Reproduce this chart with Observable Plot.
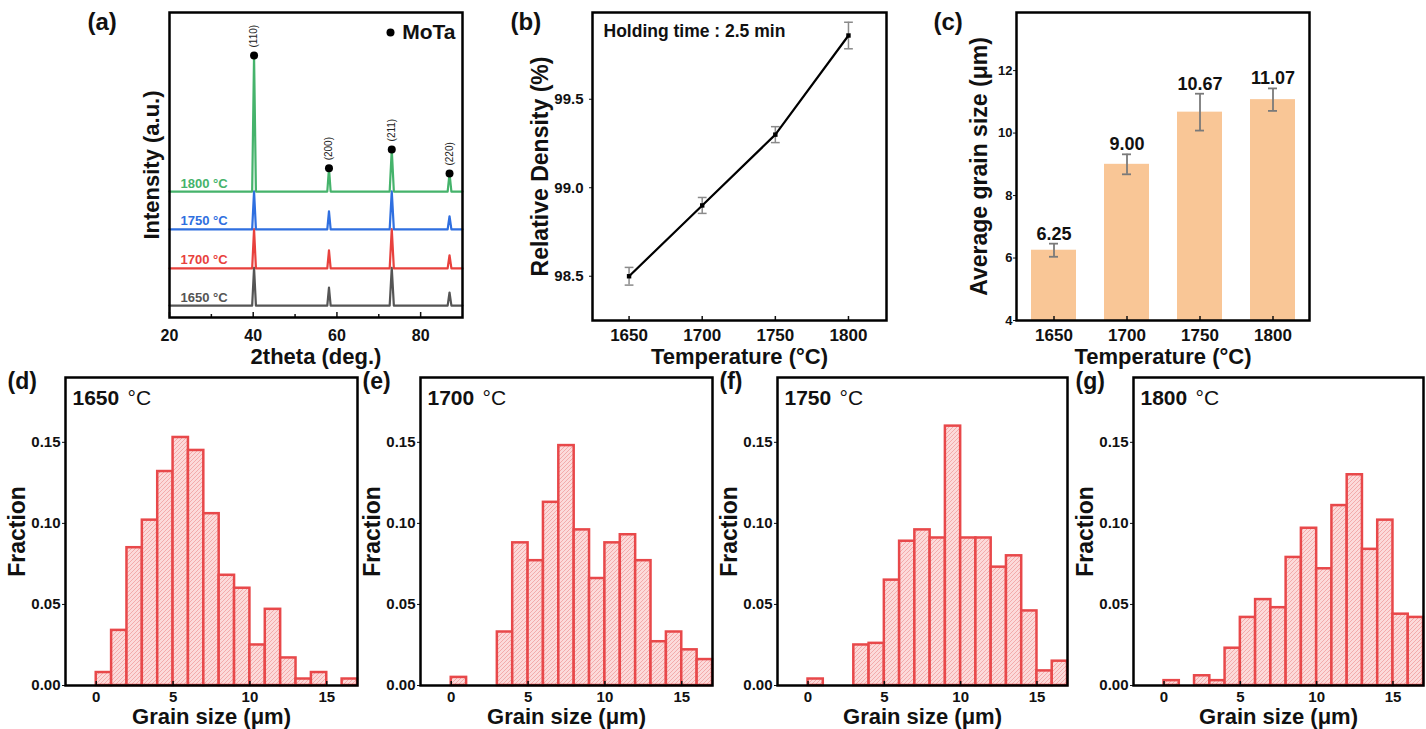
<!DOCTYPE html>
<html><head><meta charset="utf-8">
<script src="https://cdn.jsdelivr.net/npm/d3@7"></script>
<script src="https://cdn.jsdelivr.net/npm/@observablehq/plot@0.6"></script>
<style>
html,body{margin:0;padding:0;background:#fff;}
body{width:1426px;height:729px;position:relative;overflow:hidden;font-family:'Liberation Sans',Arial,sans-serif;}
.panel{position:absolute;}
.panel svg{background:transparent !important;max-width:none !important;overflow:visible;}
</style></head>
<body>
<svg width="0" height="0" style="position:absolute">
  <defs>
    <pattern id="hatch" patternUnits="userSpaceOnUse" width="4" height="4">
      <rect width="4" height="4" fill="#fcdada"/>
      <path d="M-1,1 L1,-1 M0,4 L4,0 M3,5 L5,3" stroke="#f2a6a6" stroke-width="0.9"/>
    </pattern>
  </defs>
</svg>
<script>
// ---------- (a) XRD ----------
const xrdTemps = ["1650 °C", "1700 °C", "1750 °C", "1800 °C"];
const xrdColors = ["#555555", "#e8413d", "#2f6fe0", "#45b36b"];
const xrdBaselines = [3.9, 16.1, 28.9, 41.3];
const xrdDomain = [20, 90];
const xrdTicks = [20, 40, 60, 80];
const xrdMinorTicks = [30, 50, 70];
const peakTheta = [40.2, 58.1, 73.1, 86.9];
const peakHkl = ["(110)", "(200)", "(211)", "(220)"];
const peakHalfWidth = [0.45, 0.4, 0.5, 0.45];
const peaks1650 = [12.4, 5.9, 12.4, 4.3];
const peaks1700 = [12.9, 5.9, 12.9, 4.3];
const peaks1750 = [12.5, 5.9, 12.5, 4.3];
const peaks1800 = [44.6, 7.6, 13.8, 5.9];

// ---------- (b) relative density ----------
const temps = [1650, 1700, 1750, 1800];
const density = [98.50, 98.90, 99.30, 99.86];
const densityErr = [0.05, 0.045, 0.045, 0.075];
const densityTicks = [98.5, 99.0, 99.5];

// ---------- (c) average grain size ----------
const grainMean = [6.25, 9.00, 10.67, 11.07];
const grainErr = [0.21, 0.32, 0.59, 0.36];
const grainLabels = ["6.25", "9.00", "10.67", "11.07"];
const grainTicks = [4, 6, 8, 10, 12];

// ---------- (d)-(g) grain size histograms ----------
const binStart = [0, 1, 2, 3, 4, 5, 6, 7, 8, 9, 10, 11, 12, 13, 14, 15, 16];
const binWidth = 1;
const frac1650 = [0.008, 0.034, 0.085, 0.102, 0.132, 0.153, 0.145, 0.106, 0.068, 0.060, 0.025, 0.047, 0.017, 0.004, 0.008, 0, 0.004];
const frac1700 = [0.005, 0, 0, 0.033, 0.088, 0.077, 0.113, 0.148, 0.096, 0.066, 0.088, 0.093, 0.077, 0.027, 0.033, 0.022, 0.016];
const frac1750 = [0.004, 0, 0, 0.025, 0.026, 0.065, 0.089, 0.096, 0.091, 0.160, 0.091, 0.091, 0.073, 0.080, 0.046, 0.009, 0.015];
const frac1800 = [0.003, 0, 0.006, 0.003, 0.023, 0.042, 0.053, 0.048, 0.079, 0.097, 0.072, 0.111, 0.130, 0.084, 0.102, 0.044, 0.042];
const histTicksX = [0, 5, 10, 15];
const histTicksY = [0, 0.05, 0.10, 0.15];

const FONT = "'Liberation Sans', Arial, sans-serif";
const NARROW = "'Liberation Sans Narrow', 'Arial Narrow', 'Liberation Sans', Arial, sans-serif";
const baseStyle = {fontFamily: FONT, fontSize: "13px", color: "#111", background: "transparent", overflow: "visible"};

function mount(svg, left, top, width) {
  const div = document.createElement("div");
  div.className = "panel";
  div.style.left = left + "px";
  div.style.top = top + "px";
  div.style.width = width + "px";
  div.appendChild(svg);
  document.body.appendChild(div);
}
const T = (s, o) => Plot.text([s], {text: d => d, fontFamily: FONT, fontWeight: "bold", ...o});
const YL = (s, dx, size) => T(s, {frameAnchor: "left", dx, rotate: -90, textAnchor: "middle", lineAnchor: "middle", fontSize: size});

// ===== (a) =====
{
  const W = 390, H = 372, mt = 12, mb = 55;
  const fh = H - mt - mb;
  const rows = [];
  [peaks1650, peaks1700, peaks1750, peaks1800].forEach((pk, i) => {
    const b = xrdBaselines[i], s = xrdTemps[i];
    rows.push({s, theta: xrdDomain[0], I: b});
    peakTheta.forEach((p, j) => {
      rows.push({s, theta: p - peakHalfWidth[j], I: b});
      rows.push({s, theta: p, I: b + pk[j]});
      rows.push({s, theta: p + peakHalfWidth[j], I: b});
    });
    rows.push({s, theta: xrdDomain[1], I: b});
  });
  const labels = xrdTemps.map((s, i) => ({s, I: xrdBaselines[i]}));
  const markers = peakTheta.map((p, j) => ({theta: p, I: xrdBaselines[3] + peaks1800[j], hkl: peakHkl[j]}));
  const svg = Plot.plot({
    width: W, height: H, marginTop: mt, marginBottom: mb, marginLeft: 89, marginRight: 8,
    style: baseStyle,
    x: {domain: xrdDomain},
    y: {domain: [0, 100], axis: null},
    color: {domain: xrdTemps, range: xrdColors},
    marks: [
      Plot.line(rows, {x: "theta", y: "I", z: "s", stroke: "s", strokeWidth: 2.2}),
      Plot.text(labels, {y: "I", frameAnchor: "left", dx: 11, dy: -4, lineAnchor: "bottom", textAnchor: "start", text: "s", fill: "s", fontSize: 13, fontWeight: "bold", fontFamily: FONT}),
      Plot.dot(markers, {x: "theta", y: "I", r: 4, fill: "black"}),
      Plot.text(markers, {x: "theta", y: "I", text: "hkl", rotate: -90, textAnchor: "start", lineAnchor: "middle", dy: -8, fontSize: 10, fill: "#222"}),
      Plot.dot([0], {frameAnchor: "top-right", dx: -72, dy: 20, r: 4, fill: "black"}),
      T("MoTa", {frameAnchor: "top-right", dx: -7, dy: 20, textAnchor: "end", lineAnchor: "middle", fontSize: 21}),
      Plot.axisX({ticks: xrdTicks, tickSize: 0, tickPadding: 12, label: null, fontSize: 16, fontWeight: "bold", fontFamily: NARROW}),
      Plot.tickX(xrdTicks, {x: d => d, insetTop: fh - 5, strokeWidth: 1.5}),
      Plot.tickX(xrdMinorTicks, {x: d => d, insetTop: fh - 3, strokeWidth: 1.5}),
      Plot.frame({stroke: "black", strokeWidth: 2.5}),
      T("2theta (deg.)", {frameAnchor: "bottom", dy: 46, textAnchor: "middle", lineAnchor: "bottom", fontSize: 22}),
      YL("Intensity (a.u.)", -18, 22),
      T("(a)", {frameAnchor: "top-left", dx: -82, dy: 0, lineAnchor: "top", textAnchor: "start", fontSize: 24})
    ]
  });
  mount(svg, 80, 0, W);
}

// ===== (b) =====
{
  const W = 400, H = 372, mt = 12, mb = 52;
  const fh = H - mt - mb;
  const rows = temps.map((t, i) => ({t, v: density[i], e: densityErr[i]}));
  const svg = Plot.plot({
    width: W, height: H, marginTop: mt, marginBottom: mb, marginLeft: 92, marginRight: 14,
    style: baseStyle,
    x: {domain: [1625, 1826]},
    y: {domain: [98.25, 99.99]},
    marks: [
      Plot.ruleX(rows, {x: "t", y1: d => d.v - d.e, y2: d => d.v + d.e, stroke: "#8a8a8a", strokeWidth: 1.5}),
      Plot.link(rows, {x1: d => d.t - 3, x2: d => d.t + 3, y1: d => d.v + d.e, y2: d => d.v + d.e, stroke: "#8a8a8a", strokeWidth: 1.5}),
      Plot.link(rows, {x1: d => d.t - 3, x2: d => d.t + 3, y1: d => d.v - d.e, y2: d => d.v - d.e, stroke: "#8a8a8a", strokeWidth: 1.5}),
      Plot.line(rows, {x: "t", y: "v", stroke: "black", strokeWidth: 2.2}),
      Plot.dot(rows, {x: "t", y: "v", symbol: "square", r: 2.5, fill: "black"}),
      Plot.axisX({ticks: temps, tickSize: 0, tickPadding: 8, tickFormat: d => String(d), label: null, fontSize: 17, fontWeight: "bold", fontFamily: NARROW}),
      Plot.tickX(temps, {x: d => d, insetTop: fh - 4, strokeWidth: 1.5}),
      Plot.axisY({ticks: densityTicks, tickFormat: d3.format(".1f"), tickSize: 3, tickPadding: 6, label: null, fontSize: 15, fontWeight: "bold", fontFamily: NARROW}),
      Plot.frame({stroke: "black", strokeWidth: 2.5}),
      T("Holding time : 2.5 min", {frameAnchor: "top-left", dx: 11, dy: 12, lineAnchor: "top", textAnchor: "start", fontSize: 17.5}),
      T("Temperature (°C)", {frameAnchor: "bottom", dy: 43, textAnchor: "middle", lineAnchor: "bottom", fontSize: 22}),
      YL("Relative Density (%)", -52, 23),
      T("(b)", {frameAnchor: "top-left", dx: -82, dy: 0, lineAnchor: "top", textAnchor: "start", fontSize: 24})
    ]
  });
  mount(svg, 500, 0, W);
}

// ===== (c) =====
{
  const W = 400, H = 372, mt = 12, mb = 52;
  const fh = H - mt - mb;
  const yDom = [4, 13.86];
  const rows = temps.map((t, i) => ({t, v: grainMean[i], e: grainErr[i], lab: grainLabels[i]}));
  const svg = Plot.plot({
    width: W, height: H, marginTop: mt, marginBottom: mb, marginLeft: 76, marginRight: 31,
    style: baseStyle,
    x: {type: "band", domain: temps, paddingInner: 0.386, paddingOuter: 0.193},
    y: {domain: yDom},
    marks: [
      Plot.barY(rows, {x: "t", y1: yDom[0], y2: "v", fill: "#f9c696"}),
      Plot.ruleX(rows, {x: "t", y1: d => d.v - d.e, y2: d => d.v + d.e, stroke: "#7a7a7a", strokeWidth: 1.8}),
      Plot.tickY(rows, {x: "t", y: d => d.v + d.e, insetLeft: 18, insetRight: 18, stroke: "#7a7a7a", strokeWidth: 1.8}),
      Plot.tickY(rows, {x: "t", y: d => d.v - d.e, insetLeft: 18, insetRight: 18, stroke: "#7a7a7a", strokeWidth: 1.8}),
      Plot.text(rows, {x: "t", y: d => d.v + d.e, text: "lab", dy: -4, lineAnchor: "bottom", fontSize: 18, fontWeight: "bold", fontFamily: FONT, fill: "#111"}),
      Plot.axisX({tickSize: 0, tickPadding: 8, tickFormat: d => String(d), label: null, fontSize: 17, fontWeight: "bold", fontFamily: NARROW}),
      Plot.tickX(temps, {x: d => d, insetTop: fh - 4, strokeWidth: 1.5}),
      Plot.axisY({ticks: grainTicks, tickSize: 3, tickPadding: 1, label: null, fontSize: 13, fontWeight: "bold", fontFamily: NARROW}),
      Plot.frame({stroke: "black", strokeWidth: 2.5}),
      T("Temperature (°C)", {frameAnchor: "bottom", dy: 43, textAnchor: "middle", lineAnchor: "bottom", fontSize: 22}),
      YL("Average grain size (μm)", -37, 23),
      T("(c)", {frameAnchor: "top-left", dx: -83, dy: 0, lineAnchor: "top", textAnchor: "start", fontSize: 24})
    ]
  });
  mount(svg, 940, 0, W);
}

// ===== (d)-(g) =====
function hist(fracs, panel, tempText, frameLeft, frameWidth) {
  const mt = 17, mb = 44, H = 369, ml = 65, mr = 3;
  const W = ml + frameWidth + mr;
  const fh = H - mt - mb;
  const rows = binStart.map((b, i) => ({x1: b, x2: b + binWidth, f: fracs[i]})).filter(d => d.f > 0);
  const svg = Plot.plot({
    width: W, height: H, marginTop: mt, marginBottom: mb, marginLeft: ml, marginRight: mr,
    style: baseStyle,
    x: {domain: [-2, 17]},
    y: {domain: [0, 0.19]},
    marks: [
      Plot.rectY(rows, {x1: "x1", x2: "x2", y: "f", fill: "url(#hatch)", stroke: "#e8484a", strokeWidth: 2.5}),
      Plot.axisX({ticks: histTicksX, tickSize: 0, tickPadding: 6, label: null, fontSize: 15, fontWeight: "bold", fontFamily: NARROW}),
      Plot.tickX(histTicksX, {x: d => d, insetTop: fh - 4, strokeWidth: 1.5}),
      Plot.axisY({ticks: histTicksY, tickFormat: d3.format(".2f"), tickSize: 3, tickPadding: 2, label: null, fontSize: 15, fontWeight: "bold", fontFamily: NARROW}),
      Plot.frame({stroke: "black", strokeWidth: 2.5}),
      T(tempText, {frameAnchor: "top-left", dx: 7, dy: 13, lineAnchor: "top", textAnchor: "start", fontSize: 21}),
      Plot.text(["°C"], {text: d => d, frameAnchor: "top-left", dx: 62, dy: 13, lineAnchor: "top", textAnchor: "start", fontSize: 21, fontFamily: FONT, fill: "#111"}),
      T("Grain size (μm)", {frameAnchor: "bottom", dy: 38, textAnchor: "middle", lineAnchor: "bottom", fontSize: 22}),
      YL("Fraction", -48, 23),
      T(panel, {frameAnchor: "top-left", dx: -58, dy: -5, lineAnchor: "top", textAnchor: "start", fontSize: 23})
    ]
  });
  mount(svg, frameLeft - ml, 360, W);
}
hist(frac1650, "(d)", "1650", 65, 292);
hist(frac1700, "(e)", "1700", 420, 292);
hist(frac1750, "(f)", "1750", 777, 290);
hist(frac1800, "(g)", "1800", 1133, 290);
</script>
</body></html>
